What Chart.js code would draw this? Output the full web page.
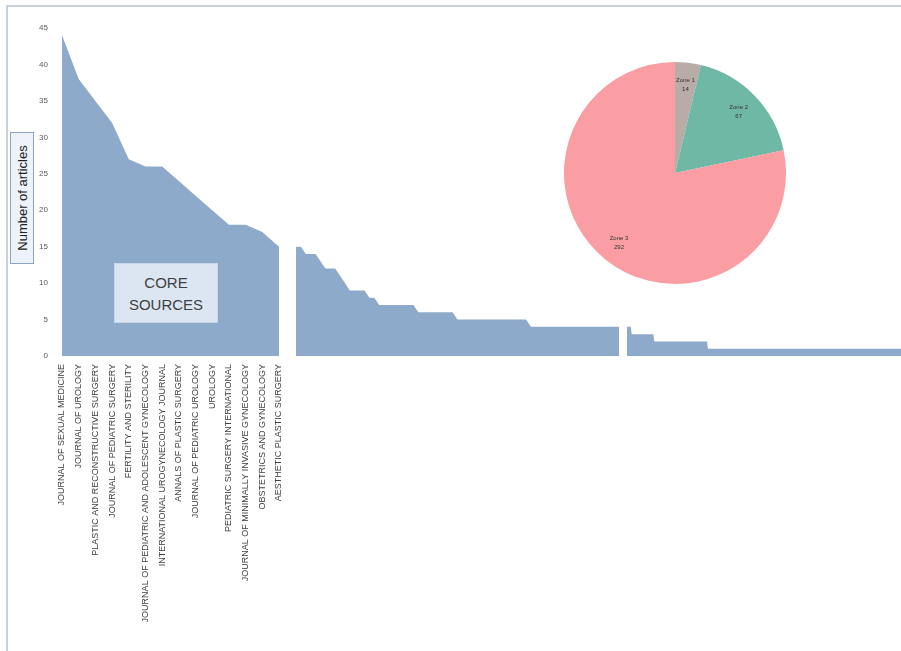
<!DOCTYPE html>
<html>
<head>
<meta charset="utf-8">
<script src="https://cdn.jsdelivr.net/npm/chart.js@4"></script>
<style>
  body{margin:0;background:#fff;font-family:"Liberation Sans",Arial,sans-serif}
  #wrap{position:relative;width:901px;height:651px;overflow:hidden;background:#fff}
  #frame{position:absolute;left:6px;top:5px;width:910px;height:660px;border-top:2px solid #c9d1dc;border-left:2px solid #c9d1dc}
  canvas{position:absolute}
  #yTitle{position:absolute;left:10px;top:132px;width:22px;height:130px;border:1px solid #8aa3c6;background:#eef2fa}
  #yTitle span{position:absolute;left:50%;top:50%;transform:translate(-50%,-50%) rotate(-90deg);white-space:nowrap;font-size:13px;color:#222}
  #core{position:absolute;left:114px;top:263px;width:104px;height:60px;background:#dce6f2;border:1px solid #c8d6e8;box-sizing:border-box;
    font-size:15px;line-height:22px;color:#404040;text-align:center;padding-top:8px}
</style>
</head>
<body>
<div id="wrap">
  <div id="frame"></div>
  <canvas id="coreChart" width="290" height="651" style="left:0;top:0"></canvas>
  <canvas id="zone2Chart" width="323" height="328" style="left:296px;top:28px"></canvas>
  <canvas id="zone3Chart" width="274" height="328" style="left:627px;top:28px"></canvas>
  <canvas id="pieChart" width="224" height="224" style="left:563px;top:61px"></canvas>
  <div id="yTitle"><span>Number of articles</span></div>
  <div id="core">CORE<br>SOURCES</div>
</div>
<script>
// zone 1 (core sources)
const coreJournals=["JOURNAL OF SEXUAL MEDICINE","JOURNAL OF UROLOGY","PLASTIC AND RECONSTRUCTIVE SURGERY",
  "JOURNAL OF PEDIATRIC SURGERY","FERTILITY AND STERILITY","JOURNAL OF PEDIATRIC AND ADOLESCENT GYNECOLOGY",
  "INTERNATIONAL UROGYNECOLOGY JOURNAL","ANNALS OF PLASTIC SURGERY","JOURNAL OF PEDIATRIC UROLOGY","UROLOGY",
  "PEDIATRIC SURGERY INTERNATIONAL","JOURNAL OF MINIMALLY INVASIVE GYNECOLOGY","OBSTETRICS AND GYNECOLOGY",
  "AESTHETIC PLASTIC SURGERY"];
const coreArticles=[44,38,35,32,27,26,26,24,22,20,18,18,17,15];

// zone 2 and 3: articles per journal, and how many journals have that count
const zone2Levels=[15,14,13,12,11,10,9,8,7,6,5,4];
const zone2Journals=[2,3,1,3,1,1,4,2,8,8,15,19];
const zone3Levels=[4,3,2,1];
const zone3Journals=[5,24,57,206];

// pie
const zoneNames=["Zone 1","Zone 2","Zone 3"];
const zoneColors=["#b9aba6","#6fb8a6","#fa9ea3"];
const yTicks=[0,5,10,15,20,25,30,35,40,45];

const fillColor="#8eaacb";
const yMax=yTicks[yTicks.length-1];

function expand(levels,counts){
  const out=[];
  levels.forEach((v,i)=>{for(let k=0;k<counts[i];k++) out.push(v);});
  return out;
}
const zone2Articles=expand(zone2Levels,zone2Journals);
const zone3Articles=expand(zone3Levels,zone3Journals);
const zoneCounts=[coreJournals.length,zone2Articles.length,zone3Articles.length];

function areaSet(values){
  return {data:values,fill:"origin",backgroundColor:fillColor,borderWidth:0,pointRadius:0,tension:0};
}

/* core chart with axes */
new Chart(document.getElementById("coreChart"),{
  type:"line",
  data:{labels:coreJournals,datasets:[areaSet(coreArticles)]},
  options:{
    responsive:false,animation:false,devicePixelRatio:1,
    layout:{padding:{top:28,right:11,left:0,bottom:0}},
    plugins:{legend:{display:false},tooltip:{enabled:false}},
    scales:{
      x:{
        grid:{display:false,drawTicks:false},border:{display:false},
        ticks:{autoSkip:false,maxRotation:90,minRotation:90,padding:8,color:"#404040",font:{size:9,family:"Liberation Sans"}},
        afterFit:s=>{s.height=295;s.paddingLeft=0;s.paddingRight=0;}
      },
      y:{
        min:0,max:yMax,
        grid:{display:false,drawTicks:false},border:{display:false},
        afterBuildTicks:s=>{s.ticks=yTicks.map(v=>({value:v}));},
        ticks:{padding:14,color:"#595959",font:{size:8,family:"Liberation Sans"}},
        afterFit:s=>{s.width=62;}
      }
    }
  }
});

/* zone 2 & 3 without axes */
function plainArea(id,values){
  new Chart(document.getElementById(id),{
    type:"line",
    data:{labels:values.map((_,i)=>i+1),datasets:[areaSet(values)]},
    options:{
      responsive:false,animation:false,devicePixelRatio:1,
      layout:{padding:0},
      plugins:{legend:{display:false},tooltip:{enabled:false}},
      scales:{x:{display:false},y:{display:false,min:0,max:yMax}}
    }
  });
}
plainArea("zone2Chart",zone2Articles);
plainArea("zone3Chart",zone3Articles);

/* pie of journals per zone */
const pieLabels={
  id:"pieLabels",
  afterDatasetsDraw(chart){
    const ctx=chart.ctx;
    const meta=chart.getDatasetMeta(0);
    ctx.save();
    ctx.fillStyle="#333";
    ctx.font="6px Liberation Sans";
    ctx.textAlign="center";
    ctx.textBaseline="middle";
    meta.data.forEach((arc,i)=>{
      const p=arc.getProps(["x","y","startAngle","endAngle","outerRadius"],true);
      const mid=(p.startAngle+p.endAngle)/2;
      const r=p.outerRadius*0.8;
      const x=p.x+Math.cos(mid)*r, y=p.y+Math.sin(mid)*r;
      ctx.fillText(zoneNames[i],x,y-4);
      ctx.fillText(String(zoneCounts[i]),x,y+5);
    });
    ctx.restore();
  }
};
new Chart(document.getElementById("pieChart"),{
  type:"pie",
  data:{labels:zoneNames,datasets:[{data:zoneCounts,backgroundColor:zoneColors,borderWidth:0}]},
  options:{
    responsive:false,animation:false,devicePixelRatio:1,
    layout:{padding:1},
    plugins:{legend:{display:false},tooltip:{enabled:false}}
  },
  plugins:[pieLabels]
});
</script>
</body>
</html>
